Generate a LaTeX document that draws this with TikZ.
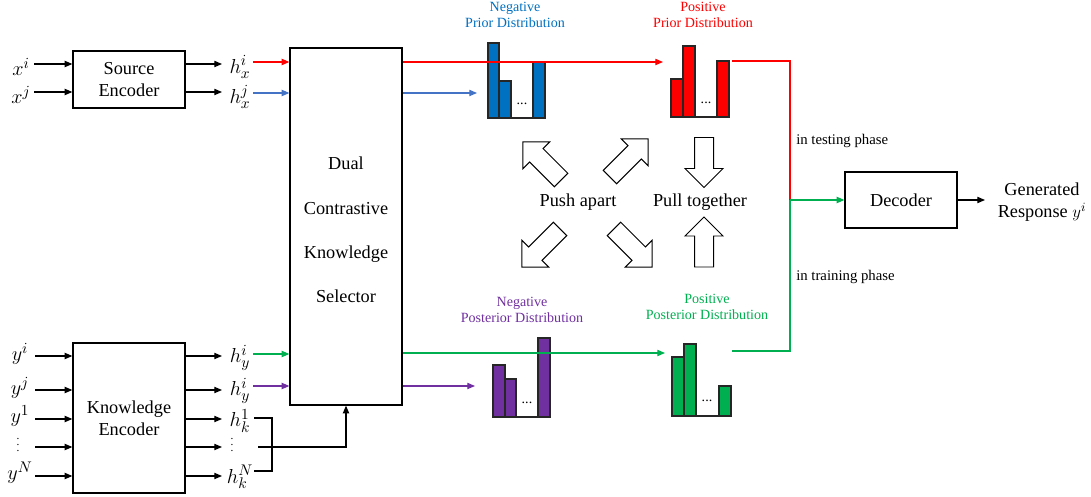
\documentclass[tikz,border=0pt]{standalone}
\usepackage{fontspec}
\setmainfont{Liberation Serif}
\usetikzlibrary{arrows.meta}
\definecolor{cred}{HTML}{FF0000}
\definecolor{cblue}{HTML}{0070C0}
\definecolor{cblueline}{HTML}{4472C4}
\definecolor{cpurple}{HTML}{7030A0}
\definecolor{cgreen}{HTML}{00B050}
\newcommand\blockarr[4]{%
\begin{scope}[shift={(#1,#2)},rotate=#3]
\draw[barrow] (-#4,-9.5) -- (#4-19,-9.5) -- (#4-19,-19) -- (#4,0) -- (#4-19,19) -- (#4-19,9.5) -- (-#4,9.5) -- cycle;
\end{scope}}
\begin{document}
\begin{tikzpicture}[x=0.025cm,y=-0.025cm,
 box/.style={draw, line width=0.9pt, inner sep=0pt, align=center, minimum width=2.8cm, font=\fontsize{13}{15.6}\selectfont},
 lab/.style={inner sep=0pt, font=\fontsize{13}{15.6}\selectfont},
 mlab/.style={inner sep=0pt, font=\fontsize{15}{18}\selectfont},
 vd/.style={inner sep=0pt, font=\fontsize{8}{9}\selectfont},
 small/.style={inner sep=0pt, align=center, font=\fontsize{10}{11.5}\selectfont},
 phase/.style={inner sep=0pt, anchor=west, font=\fontsize{10.5}{12}\selectfont},
 dots/.style={inner sep=0pt, anchor=base, font=\fontsize{10}{12}\selectfont},
 arr/.style={line width=0.8pt, -{Triangle[length=5.5pt,width=4.5pt]}},
 ln/.style={line width=0.8pt},
 bar/.style={draw=black!85, line width=1pt},
 base/.style={draw=black!85, line width=1.1pt},
 barrow/.style={draw, fill=white, line width=0.7pt, line join=miter}
]
\useasboundingbox (0,0) rectangle (1091,497);

% ---------- boxes ----------
\node[box, minimum height=1.425cm] (src) at (129,79.5) {Source\\Encoder};
\node[box, minimum height=3.75cm] (kenc) at (129,418) {Knowledge\\Encoder};
\node[box, minimum height=8.925cm, font=\fontsize{13}{31.5}\selectfont] (sel) at (346,226.5) {\rule{0pt}{14pt}Dual\\Contrastive\\Knowledge\\Selector};
\node[box, minimum height=1.4cm] (dec) at (901,200) {Decoder};

% ---------- source encoder inputs / outputs ----------
\node[mlab] (xi) at (21,67) {$x^i$};
\node[mlab] (xj) at (21,95) {$x^j$};
\coordinate (axi) at (34,64);
\coordinate (axj) at (34,92);
\draw[arr] (axi) -- (axi -| src.west);
\draw[arr] (axj) -- (axj -| src.west);
\coordinate (oxi) at (222,64);
\coordinate (oxj) at (222,92);
\draw[arr] (src.east |- oxi) -- (oxi);
\draw[arr] (src.east |- oxj) -- (oxj);
\node[mlab] (hxi) at (240,67) {$h_x^i$};
\node[mlab] (hxj) at (240,97) {$h_x^j$};
\coordinate (cxi) at (253,62);
\coordinate (cxj) at (253,93);
\draw[arr, cred] (cxi) -- (cxi -| sel.west);
\draw[arr, cblueline] (cxj) -- (cxj -| sel.west);

% ---------- knowledge encoder inputs / outputs ----------
\node[mlab] (yi) at (20,354) {$y^i$};
\node[mlab] (yj) at (20,388) {$y^j$};
\node[mlab] (y1) at (20,416) {$y^1$};
\node[vd] (yd) at (18,451) {\smash{$\vdots$}};
\node[mlab] (yN) at (20,473) {$y^N$};
\foreach \n/\yy in {1/356,2/390,3/419,4/447,5/476}{
  \coordinate (ky\n) at (35,\yy);
  \draw[arr] (ky\n) -- (ky\n -| kenc.west);
  \coordinate (ko\n) at (222,\yy);
  \draw[arr] (kenc.east |- ko\n) -- (ko\n);
}
\node[mlab] (hyi) at (240,358) {$h_y^i$};
\node[mlab] (hyj) at (240,391) {$h_y^i$};
\node[mlab] (hk1) at (240,421) {$h_k^1$};
\node[vd] (hkd) at (232,451) {\smash{$\vdots$}};
\node[mlab] (hkN) at (240,477) {$h_k^N$};
\coordinate (cyi) at (253,354);
\coordinate (cyj) at (253,386);
\draw[arr, cgreen] (cyi) -- (cyi -| sel.west);
\draw[arr, cpurple] (cyj) -- (cyj -| sel.west);
% bracket
\coordinate (bt) at (254,418);
\coordinate (bb) at (254,471);
\coordinate (bx) at (272,418);
\draw[ln] (bt) -- (bx) -- (bx |- bb) -- (bb);
\coordinate (bm) at (258,447);
\draw[arr] (bm) -| (sel.south);

% ---------- histograms ----------
% negative prior
\filldraw[bar,fill=cblue] (488,118) rectangle (499,43);
\filldraw[bar,fill=cblue] (499,118) rectangle (511,81);
\filldraw[bar,fill=cblue] (533,118) rectangle (545,62);
\draw[base] (487,118) -- (546,118);
\node[dots] (d1) at (522,105) {...};
% positive prior
\filldraw[bar,fill=cred] (671,117) rectangle (683,79);
\filldraw[bar,fill=cred] (683,117) rectangle (695,46);
\filldraw[bar,fill=cred] (717,117) rectangle (729,61);
\draw[base] (670,117) -- (730,117);
\node[dots] (d2) at (706,104) {...};
% negative posterior
\filldraw[bar,fill=cpurple] (493,417) rectangle (505,365);
\filldraw[bar,fill=cpurple] (505,417) rectangle (516,379);
\filldraw[bar,fill=cpurple] (538,417) rectangle (550,338);
\draw[base] (492,417) -- (551,417);
\node[dots] (d3) at (527,403) {...};
% positive posterior
\filldraw[bar,fill=cgreen] (672,416) rectangle (684,357);
\filldraw[bar,fill=cgreen] (684,416) rectangle (696,344);
\filldraw[bar,fill=cgreen] (719,416) rectangle (731,386);
\draw[base] (671,416) -- (732,416);
\node[dots] (d4) at (707,402) {...};

% distribution labels
\node[small, text=cblue] (nprl) at (515,15) {Negative\\Prior Distribution};
\node[small, text=cred] (pprl) at (703,15) {Positive\\Prior Distribution};
\node[small, text=cpurple] (npol) at (522,310) {Negative\\Posterior Distribution};
\node[small, text=cgreen] (ppol) at (707,307) {Positive\\Posterior Distribution};

% ---------- selector outputs ----------
\coordinate (rp) at (663,62);
\coordinate (bp) at (477,93);
\coordinate (gp) at (665,353);
\coordinate (pp) at (475,386);
\draw[arr, cred] (sel.east |- rp) -- (rp);
\draw[arr, cblueline] (sel.east |- bp) -- (bp);
\draw[arr, cgreen] (sel.east |- gp) -- (gp);
\draw[arr, cpurple] (sel.east |- pp) -- (pp);

% ---------- to decoder ----------
\coordinate (ro) at (732,61);
\coordinate (go) at (732,351);
\coordinate (jn) at (790,200);
\draw[ln, cred] (ro) -| (jn);
\draw[ln, cgreen] (go) -| (jn);
\draw[arr, cgreen] (jn) -- (dec.west);
\coordinate (out) at (985,200);
\draw[arr] (dec.east) -- (out);
\node[lab, align=center] (gen) at (1042,202) {Generated\\Response $y^i$};
\node[phase] (test) at (796,141) {in testing phase};
\node[phase] (train) at (796,277) {in training phase};

% ---------- push / pull ----------
\node[lab] (push) at (578,202) {Push apart};
\node[lab] (pull) at (700,202) {Pull together};
\blockarr{542}{161}{135}{27}
\blockarr{629}{158}{45}{27}
\blockarr{541}{248}{225}{27}
\blockarr{633}{248}{-45}{27}
\blockarr{704}{162.5}{-90}{25}
\blockarr{704}{242}{90}{25}
\end{tikzpicture}
\end{document}
